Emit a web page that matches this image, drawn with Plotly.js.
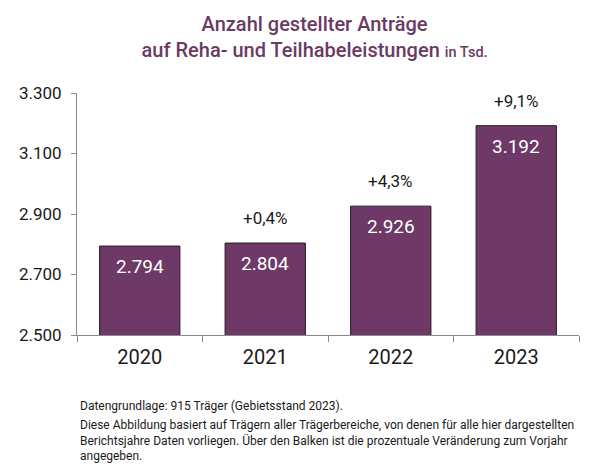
<!DOCTYPE html>
<html>
<head>
<meta charset="utf-8">
<script src="https://cdn.plot.ly/plotly-3.0.1.min.js"></script>
<style>
html,body{margin:0;padding:0;background:#fff;}
#chart{width:605px;height:473px;}
</style>
</head>
<body>
<div id="chart"></div>
<script>
const years = ["2020", "2021", "2022", "2023"];
const values = [2794, 2804, 2926, 3192];
const valueLabels = ["2.794", "2.804", "2.926", "3.192"];
const changeLabels = ["", "+0,4%", "+4,3%", "+9,1%"];
const yTicks = [2500, 2700, 2900, 3100, 3300];
const yTickLabels = ["2.500", "2.700", "2.900", "3.100", "3.300"];
const footLines = [
  "Datengrundlage: 915 Träger (Gebietsstand 2023).",
  "Diese Abbildung basiert auf Trägern aller Trägerbereiche, von denen für alle hier dargestellten<br>Berichtsjahre Daten vorliegen. Über den Balken ist die prozentuale Veränderung zum Vorjahr<br>angegeben."
];

const purple = "#6e3867";
const font = "Roboto, 'Noto Sans', sans-serif";

const annotations = [];
years.forEach((y, i) => {
  annotations.push({
    x: i, y: values[i], xref: "x", yref: "y",
    text: valueLabels[i], showarrow: false,
    yanchor: "top", yshift: -7,
    font: {family: font, size: 19, color: "#ffffff"}
  });
  if (changeLabels[i]) {
    annotations.push({
      x: i, y: values[i], xref: "x", yref: "y",
      text: changeLabels[i], showarrow: false,
      yanchor: "bottom", yshift: 13,
      font: {family: font, size: 17, color: "#1a1a1a"}
    });
  }
});
annotations.push({
  xref: "paper", yref: "paper", x: 0.002, y: -0.258, xanchor: "left", yanchor: "top",
  text: footLines[0], showarrow: false, align: "left",
  font: {family: font, size: 12, color: "#1a1a1a"}
});
annotations.push({
  xref: "paper", yref: "paper", x: 0.002, y: -0.335, xanchor: "left", yanchor: "top",
  text: footLines[1], showarrow: false, align: "left",
  font: {family: font, size: 12, color: "#1a1a1a"}
});

const trace = {
  type: "bar",
  x: years,
  y: values,
  marker: {color: purple, line: {color: "#2a1a28", width: 1}},
  hoverinfo: "none"
};

const layout = {
  width: 605, height: 473,
  margin: {l: 77, r: 26, t: 93, b: 138},
  paper_bgcolor: "#ffffff", plot_bgcolor: "#ffffff",
  separators: ",.",
  showlegend: false,
  bargap: 0.36,
  title: {
    text: "Anzahl gestellter Anträge<br>auf Reha- und Teilhabeleistungen <span style='font-size:14.5px'>in Tsd.</span>",
    font: {family: font, size: 20, color: "#6b3a63", weight: 500},
    x: 0.52, xanchor: "center", xref: "container",
    y: 0.935, yanchor: "top", yref: "container"
  },
  xaxis: {
    type: "category",
    range: [-0.5, 3.5],
    showline: true, linecolor: "#8a8a8a", linewidth: 1,
    ticks: "outside", tickson: "boundaries", ticklen: 6, tickcolor: "#8a8a8a",
    tickfont: {family: font, size: 20, color: "#1a1a1a"},
    ticklabelstandoff: 4,
    showgrid: false, zeroline: false, fixedrange: true
  },
  yaxis: {
    range: [2500, 3300],
    tickvals: yTicks, ticktext: yTickLabels,
    showline: true, linecolor: "#8a8a8a", linewidth: 1,
    ticks: "outside", ticklen: 5, tickcolor: "#8a8a8a",
    tickfont: {family: font, size: 17, color: "#1a1a1a"},
    ticklabelstandoff: 6,
    showgrid: false, zeroline: false, fixedrange: true
  },
  annotations: annotations
};

Plotly.newPlot("chart", [trace], layout, {staticPlot: true, displayModeBar: false});
</script>
</body>
</html>
